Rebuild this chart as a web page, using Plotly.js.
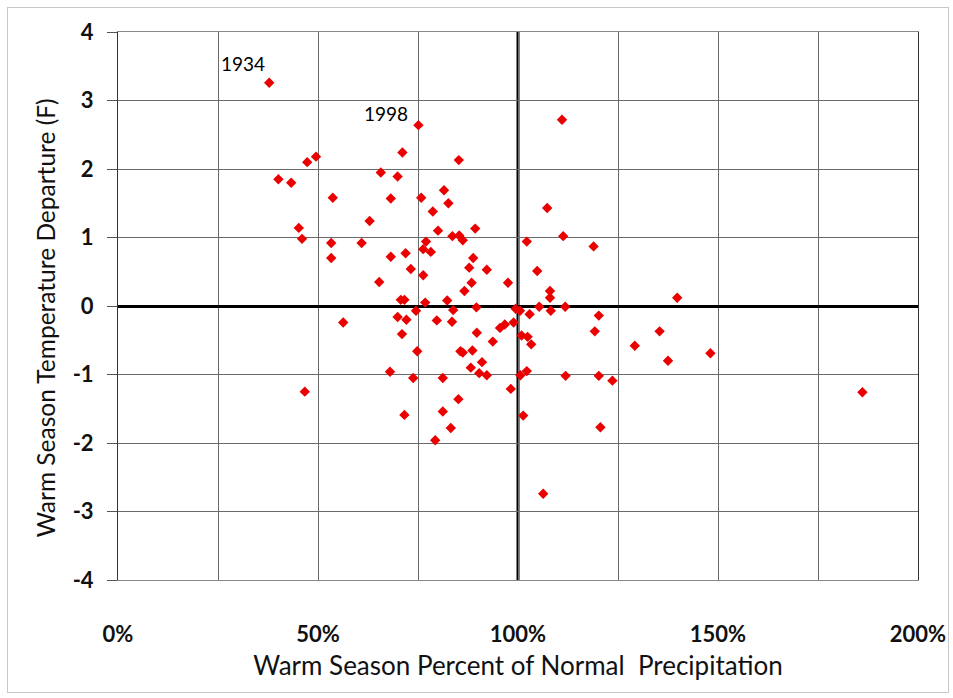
<!DOCTYPE html>
<html>
<head>
<meta charset="utf-8">
<script src="https://cdn.plot.ly/plotly-3.0.1.min.js"></script>
<style>
  html, body { margin: 0; padding: 0; background: #fff; }
  #wrap { position: relative; width: 953px; height: 698px; }
  #chart { width: 953px; height: 698px; }
  #frame { position: absolute; left: 7px; top: 7px; width: 940px; height: 684px;
           border: 1px solid #c8c8c8; pointer-events: none; }
</style>
</head>
<body>
<div id="wrap"><div id="chart"></div><div id="frame"></div></div>
<script>
// Warm season percent of normal precipitation (fraction of normal)
const precipPct = [
  0.378, 0.751, 1.110, 0.711, 0.495, 0.473, 0.852, 0.401, 0.433, 0.657,
  0.699, 0.815, 0.537, 0.682, 0.758, 0.826, 0.787, 0.629, 0.452, 0.460,
  0.800, 0.893, 0.836, 0.853, 0.862, 0.770, 0.763, 0.782, 0.533, 0.609,
  0.533, 0.682, 0.719, 0.732, 0.763, 0.653, 0.707, 0.716, 0.768, 0.823,
  1.073, 1.113, 1.189, 1.022, 1.048, 1.080, 1.080, 0.888, 0.878, 0.922,
  0.884, 0.975, 0.866, 1.398, 0.838, 0.896, 0.994, 1.005, 1.029, 1.053,
  1.082, 1.118, 1.202, 1.192, 0.797, 0.835, 0.897, 0.937, 0.955, 0.967,
  0.989, 1.009, 1.024, 1.033, 0.856, 0.862, 0.886, 0.910, 0.882, 0.903,
  0.922, 0.812, 0.982, 1.006, 1.022, 1.119, 1.202, 1.236, 0.851, 0.812,
  0.832, 0.793, 1.013, 1.206, 1.063, 0.745, 0.699, 0.721, 0.563, 0.710,
  0.748, 0.680, 0.738, 0.467, 0.716, 1.354, 1.292, 1.375, 1.481, 1.861
];
// Warm season temperature departure (F)
const tempDep = [
  3.26, 2.64, 2.72, 2.24, 2.18, 2.10, 2.13, 1.85, 1.80, 1.95,
  1.89, 1.69, 1.58, 1.57, 1.58, 1.50, 1.38, 1.24, 1.14, 0.98,
  1.10, 1.13, 1.02, 1.03, 0.96, 0.94, 0.83, 0.79, 0.92, 0.92,
  0.70, 0.72, 0.77, 0.54, 0.45, 0.35, 0.09, 0.09, 0.05, 0.08,
  1.43, 1.02, 0.87, 0.94, 0.51, 0.22, 0.12, 0.70, 0.56, 0.53,
  0.34, 0.34, 0.22, 0.12, -0.06, -0.02, -0.04, -0.07, -0.12, -0.01,
  -0.07, -0.01, -0.14, -0.37, -0.21, -0.23, -0.39, -0.52, -0.32, -0.27,
  -0.24, -0.43, -0.45, -0.56, -0.66, -0.68, -0.65, -0.82, -0.90, -0.98,
  -1.01, -1.05, -1.21, -1.01, -0.95, -1.02, -1.02, -1.09, -1.36, -1.54,
  -1.78, -1.96, -1.60, -1.77, -2.74, -0.07, -0.16, -0.20, -0.24, -0.41,
  -0.66, -0.96, -1.05, -1.25, -1.59, -0.37, -0.58, -0.80, -0.69, -1.26
];
// Labelled years and the index of their point
const labelYears = ['1934', '1998'];
const labelIndex = [0, 1];

const xTickVals = [0, 0.5, 1.0, 1.5, 2.0];
const xTickText = ['0%', '50%', '100%', '150%', '200%'];
const yTickVals = [-4, -3, -2, -1, 0, 1, 2, 3, 4];
const yTickText = ['-4', '-3', '-2', '-1', '0', '1', '2', '3', '4'];

const xTitle = 'Warm Season Percent of Normal\u00a0 Precipitation';
const yTitle = 'Warm Season Temperature Departure (F)';

const FONT = 'Lato, "Open Sans", sans-serif';
const labelShift = [{x: -2, y: 6}, {x: -8, y: -2}];

const trace = {
  type: 'scatter', mode: 'markers',
  x: precipPct, y: tempDep,
  marker: { symbol: 'diamond', size: 8, color: 'rgb(235,0,0)', line: {width: 0} },
  hoverinfo: 'x+y', cliponaxis: false
};

const annotations = labelYears.map((t, i) => ({
  x: precipPct[labelIndex[i]], y: tempDep[labelIndex[i]],
  xref: 'x', yref: 'y', text: t, showarrow: false,
  xanchor: 'right', yanchor: 'bottom',
  xshift: labelShift[i].x, yshift: labelShift[i].y,
  font: { family: FONT, size: 19, color: '#000' }
}));
annotations.push({
  xref: 'paper', yref: 'paper', x: -0.091, y: 0.5, textangle: -90,
  xanchor: 'center', yanchor: 'middle', showarrow: false, text: yTitle,
  yshift: -12,
  font: { family: FONT, size: 24.5, color: '#111' }
});

const layout = {
  width: 953, height: 698,
  margin: { l: 118, r: 35, t: 32, b: 118, pad: 0 },
  paper_bgcolor: '#fff', plot_bgcolor: '#fff',
  showlegend: false,
  font: { family: FONT, color: '#111' },
  xaxis: {
    range: [0, 2], tickvals: xTickVals, ticktext: xTickText,
    showgrid: true, gridcolor: '#6a6a6a', gridwidth: 1,
    minor: { dtick: 0.25, showgrid: true, gridcolor: '#6a6a6a', gridwidth: 1, ticks: '' },
    zeroline: false, showline: true, linecolor: '#888', linewidth: 1, mirror: true,
    ticks: 'outside', ticklen: 35, tickcolor: 'rgba(0,0,0,0)',
    tickfont: { family: FONT, size: 22, color: '#111', weight: 'bold' },
    title: { text: xTitle, standoff: 10,
             font: { family: FONT, size: 26, color: '#111' } },
    automargin: false, fixedrange: true
  },
  yaxis: {
    range: [-4, 4], tickvals: yTickVals, ticktext: yTickText,
    showgrid: true, gridcolor: '#6a6a6a', gridwidth: 1,
    zeroline: true, zerolinecolor: '#000', zerolinewidth: 3,
    showline: true, linecolor: '#333', linewidth: 1, mirror: true,
    ticks: 'outside', ticklen: 10, tickcolor: '#555', tickwidth: 1,
    ticklabelstandoff: 9,
    tickfont: { family: FONT, size: 22, color: '#111', weight: 'bold' },
    automargin: false, fixedrange: true
  },
  shapes: [
    { type: 'line', xref: 'x', yref: 'paper', x0: 1, x1: 1, y0: 0, y1: 1,
      line: { color: '#000', width: 3 }, layer: 'below' }
  ],
  annotations: annotations
};

Plotly.newPlot('chart', [trace], layout, { staticPlot: true, displayModeBar: false });
</script>
</body>
</html>
